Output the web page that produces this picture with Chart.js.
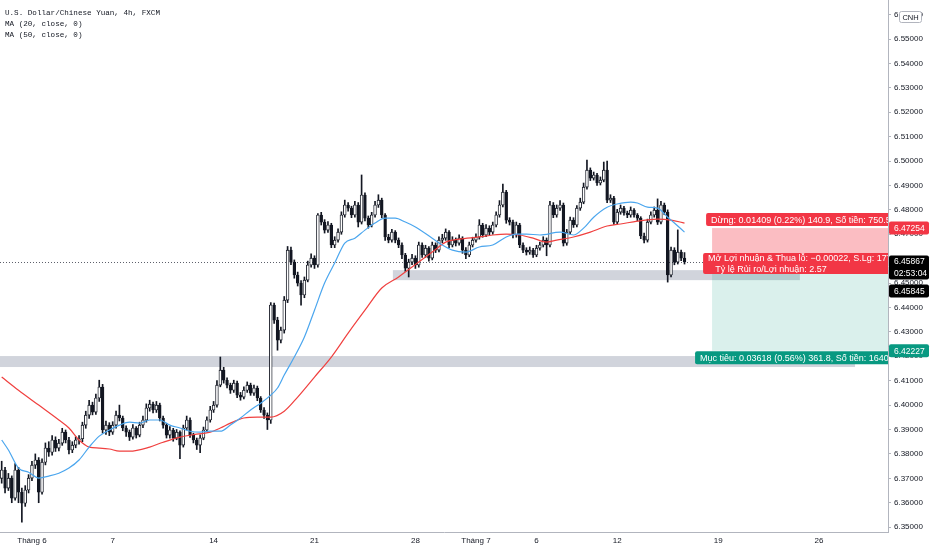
<!DOCTYPE html>
<html>
<head>
<meta charset="utf-8">
<script src="https://cdn.jsdelivr.net/npm/chart.js@4.4.1/dist/chart.umd.min.js"></script>
<style>
  html, body { margin: 0; padding: 0; background: #fff; }
  #wrap { width: 932px; height: 550px; position: relative; }
</style>
</head>
<body>
<div id="wrap"><canvas id="chart"></canvas></div>
<script>
// USD/CNH 4h candles (one value per bar)
const open = [
  6.3700, 6.3734, 6.3660, 6.3701, 6.3619, 6.3734, 6.3643, 6.3598, 6.3652, 6.3701,
  6.3754, 6.3775, 6.3643, 6.3766, 6.3824, 6.3807, 6.3857, 6.3824, 6.3844, 6.3889,
  6.3857, 6.3816, 6.3836, 6.3857, 6.3862, 6.3918, 6.3959, 6.4000, 6.3971, 6.4029,
  6.4074, 6.3898, 6.3918, 6.3889, 6.3918, 6.3959, 6.3947, 6.3906, 6.3889, 6.3869,
  6.3906, 6.3877, 6.3918, 6.3939, 6.3988, 6.4004, 6.3980, 6.4000, 6.3947, 6.3918,
  6.3877, 6.3898, 6.3865, 6.3889, 6.3836, 6.3906, 6.3939, 6.3877, 6.3857, 6.3836,
  6.3865, 6.3898, 6.3939, 6.3980, 6.4000, 6.4082, 6.4143, 6.4102, 6.4082, 6.4061,
  6.4090, 6.4041, 6.4033, 6.4061, 6.4082, 6.4049, 6.4070, 6.4029, 6.3980, 6.3959,
  6.3939, 6.4410, 6.4348, 6.4266, 6.4307, 6.4430, 6.4635, 6.4586, 6.4533, 6.4500,
  6.4451, 6.4512, 6.4574, 6.4602, 6.4574, 6.4779, 6.4750, 6.4717, 6.4738, 6.4656,
  6.4676, 6.4709, 6.4779, 6.4820, 6.4807, 6.4779, 6.4820, 6.4750, 6.4861, 6.4766,
  6.4738, 6.4779, 6.4820, 6.4840, 6.4779, 6.4689, 6.4676, 6.4709, 6.4676, 6.4656,
  6.4615, 6.4561, 6.4586, 6.4602, 6.4574, 6.4656, 6.4615, 6.4643, 6.4602, 6.4656,
  6.4635, 6.4676, 6.4684, 6.4709, 6.4656, 6.4676, 6.4664, 6.4684, 6.4635, 6.4615,
  6.4656, 6.4676, 6.4689, 6.4738, 6.4697, 6.4725, 6.4709, 6.4738, 6.4779, 6.4820,
  6.4873, 6.4758, 6.4750, 6.4697, 6.4738, 6.4656, 6.4635, 6.4627, 6.4635, 6.4615,
  6.4643, 6.4656, 6.4676, 6.4656, 6.4820, 6.4779, 6.4807, 6.4820, 6.4664, 6.4709,
  6.4758, 6.4738, 6.4807, 6.4832, 6.4893, 6.4963, 6.4930, 6.4943, 6.4910, 6.4922,
  6.4963, 6.4840, 6.4848, 6.4750, 6.4791, 6.4807, 6.4787, 6.4779, 6.4799, 6.4779,
  6.4766, 6.4693, 6.4676, 6.4750, 6.4779, 6.4799, 6.4750, 6.4820, 6.4791, 6.4533,
  6.4635, 6.4586, 6.4627, 6.4602
];
const high = [
  6.3770, 6.3745, 6.3720, 6.3710, 6.3760, 6.3745, 6.3660, 6.3670, 6.3715, 6.3770,
  6.3800, 6.3785, 6.3780, 6.3845, 6.3850, 6.3875, 6.3870, 6.3860, 6.3905, 6.3898,
  6.3868, 6.3850, 6.3870, 6.3875, 6.3930, 6.3975, 6.4020, 6.4012, 6.4045, 6.4102,
  6.4085, 6.3935, 6.3928, 6.3932, 6.3975, 6.4000, 6.3955, 6.3915, 6.3898, 6.3920,
  6.3912, 6.3930, 6.3955, 6.4005, 6.4020, 6.4012, 6.4015, 6.4008, 6.3955, 6.3925,
  6.3912, 6.3905, 6.3900, 6.3895, 6.3918, 6.3955, 6.3948, 6.3885, 6.3865, 6.3878,
  6.3910, 6.3952, 6.3995, 6.4015, 6.4100, 6.4197, 6.4155, 6.4112, 6.4090, 6.4102,
  6.4098, 6.4052, 6.4075, 6.4095, 6.4090, 6.4082, 6.4078, 6.4035, 6.3990, 6.3968,
  6.4420, 6.4418, 6.4360, 6.4320, 6.4445, 6.4650, 6.4648, 6.4595, 6.4545, 6.4510,
  6.4525, 6.4590, 6.4620, 6.4612, 6.4785, 6.4790, 6.4760, 6.4752, 6.4745, 6.4690,
  6.4722, 6.4792, 6.4840, 6.4830, 6.4815, 6.4835, 6.4830, 6.4943, 6.4870, 6.4775,
  6.4790, 6.4835, 6.4862, 6.4848, 6.4785, 6.4700, 6.4720, 6.4715, 6.4685, 6.4665,
  6.4622, 6.4598, 6.4618, 6.4612, 6.4668, 6.4665, 6.4655, 6.4650, 6.4668, 6.4665,
  6.4690, 6.4700, 6.4722, 6.4715, 6.4690, 6.4685, 6.4698, 6.4690, 6.4645, 6.4668,
  6.4688, 6.4702, 6.4760, 6.4745, 6.4740, 6.4735, 6.4750, 6.4792, 6.4838, 6.4906,
  6.4880, 6.4768, 6.4758, 6.4750, 6.4745, 6.4665, 6.4645, 6.4648, 6.4642, 6.4655,
  6.4668, 6.4690, 6.4685, 6.4835, 6.4830, 6.4820, 6.4838, 6.4828, 6.4720, 6.4770,
  6.4768, 6.4818, 6.4848, 6.4910, 6.5004, 6.4972, 6.4955, 6.4950, 6.4935, 6.4996,
  6.5000, 6.4862, 6.4855, 6.4802, 6.4820, 6.4815, 6.4795, 6.4812, 6.4805, 6.4785,
  6.4772, 6.4705, 6.4762, 6.4792, 6.4812, 6.4845, 6.4835, 6.4828, 6.4800, 6.4648,
  6.4645, 6.4718, 6.4635, 6.4625
];
const low = [
  6.3680, 6.3640, 6.3650, 6.3600, 6.3610, 6.3600, 6.3520, 6.3585, 6.3640, 6.3690,
  6.3740, 6.3600, 6.3635, 6.3755, 6.3790, 6.3795, 6.3810, 6.3812, 6.3835, 6.3845,
  6.3800, 6.3805, 6.3825, 6.3840, 6.3850, 6.3905, 6.3945, 6.3960, 6.3962, 6.4015,
  6.3885, 6.3880, 6.3875, 6.3880, 6.3905, 6.3935, 6.3895, 6.3872, 6.3855, 6.3860,
  6.3865, 6.3870, 6.3908, 6.3930, 6.3975, 6.3968, 6.3970, 6.3935, 6.3905, 6.3865,
  6.3865, 6.3852, 6.3858, 6.3780, 6.3828, 6.3898, 6.3868, 6.3845, 6.3818, 6.3805,
  6.3858, 6.3890, 6.3930, 6.3970, 6.3992, 6.4075, 6.4090, 6.4070, 6.4048, 6.4052,
  6.4030, 6.4020, 6.4025, 6.4052, 6.4040, 6.4040, 6.4018, 6.3970, 6.3945, 6.3900,
  6.3925, 6.4335, 6.4225, 6.4255, 6.4295, 6.4420, 6.4575, 6.4520, 6.4488, 6.4410,
  6.4440, 6.4505, 6.4565, 6.4560, 6.4565, 6.4738, 6.4705, 6.4708, 6.4645, 6.4645,
  6.4668, 6.4700, 6.4770, 6.4795, 6.4768, 6.4770, 6.4730, 6.4742, 6.4755, 6.4725,
  6.4730, 6.4770, 6.4810, 6.4768, 6.4675, 6.4665, 6.4668, 6.4665, 6.4645, 6.4600,
  6.4548, 6.4525, 6.4575, 6.4560, 6.4565, 6.4605, 6.4605, 6.4590, 6.4595, 6.4625,
  6.4628, 6.4665, 6.4675, 6.4645, 6.4648, 6.4652, 6.4655, 6.4622, 6.4600, 6.4608,
  6.4648, 6.4668, 6.4680, 6.4688, 6.4690, 6.4698, 6.4700, 6.4730, 6.4770, 6.4812,
  6.4745, 6.4738, 6.4685, 6.4688, 6.4645, 6.4625, 6.4615, 6.4618, 6.4605, 6.4608,
  6.4635, 6.4648, 6.4612, 6.4648, 6.4768, 6.4770, 6.4798, 6.4652, 6.4655, 6.4700,
  6.4728, 6.4730, 6.4798, 6.4825, 6.4885, 6.4920, 6.4922, 6.4900, 6.4902, 6.4915,
  6.4830, 6.4830, 6.4740, 6.4742, 6.4782, 6.4778, 6.4768, 6.4770, 6.4770, 6.4755,
  6.4682, 6.4665, 6.4668, 6.4742, 6.4770, 6.4740, 6.4742, 6.4780, 6.4504, 6.4525,
  6.4575, 6.4578, 6.4592, 6.4578
];
const close = [
  6.3734, 6.3660, 6.3701, 6.3619, 6.3734, 6.3643, 6.3598, 6.3652, 6.3701, 6.3754,
  6.3775, 6.3643, 6.3766, 6.3824, 6.3807, 6.3857, 6.3824, 6.3844, 6.3889, 6.3857,
  6.3816, 6.3836, 6.3857, 6.3862, 6.3918, 6.3959, 6.4000, 6.3971, 6.4029, 6.4074,
  6.3898, 6.3918, 6.3889, 6.3918, 6.3959, 6.3947, 6.3906, 6.3889, 6.3869, 6.3906,
  6.3877, 6.3918, 6.3939, 6.3988, 6.4004, 6.3980, 6.4000, 6.3947, 6.3918, 6.3877,
  6.3898, 6.3865, 6.3889, 6.3836, 6.3906, 6.3939, 6.3877, 6.3857, 6.3836, 6.3865,
  6.3898, 6.3939, 6.3980, 6.4000, 6.4082, 6.4143, 6.4102, 6.4082, 6.4061, 6.4090,
  6.4041, 6.4033, 6.4061, 6.4082, 6.4049, 6.4070, 6.4029, 6.3980, 6.3959, 6.3939,
  6.4410, 6.4348, 6.4266, 6.4307, 6.4430, 6.4635, 6.4586, 6.4533, 6.4500, 6.4451,
  6.4512, 6.4574, 6.4602, 6.4574, 6.4779, 6.4750, 6.4717, 6.4738, 6.4656, 6.4676,
  6.4709, 6.4779, 6.4820, 6.4807, 6.4779, 6.4820, 6.4750, 6.4861, 6.4766, 6.4738,
  6.4779, 6.4820, 6.4840, 6.4779, 6.4689, 6.4676, 6.4709, 6.4676, 6.4656, 6.4615,
  6.4561, 6.4586, 6.4602, 6.4574, 6.4656, 6.4615, 6.4643, 6.4602, 6.4656, 6.4635,
  6.4676, 6.4684, 6.4709, 6.4656, 6.4676, 6.4664, 6.4684, 6.4635, 6.4615, 6.4656,
  6.4676, 6.4689, 6.4738, 6.4697, 6.4725, 6.4709, 6.4738, 6.4779, 6.4820, 6.4873,
  6.4758, 6.4750, 6.4697, 6.4738, 6.4656, 6.4635, 6.4627, 6.4635, 6.4615, 6.4643,
  6.4656, 6.4676, 6.4656, 6.4820, 6.4779, 6.4807, 6.4820, 6.4664, 6.4709, 6.4758,
  6.4738, 6.4807, 6.4832, 6.4893, 6.4963, 6.4930, 6.4943, 6.4910, 6.4922, 6.4963,
  6.4840, 6.4848, 6.4750, 6.4791, 6.4807, 6.4787, 6.4779, 6.4799, 6.4779, 6.4766,
  6.4693, 6.4676, 6.4750, 6.4779, 6.4799, 6.4750, 6.4820, 6.4791, 6.4533, 6.4635,
  6.4586, 6.4627, 6.4602, 6.4587
];

// moving averages as drawn on the picture (bar index, value)
const ma20Idx = [0, 2, 5, 8, 11, 14, 17, 20, 23, 26, 29, 32, 35, 38, 41, 44, 47, 50, 53, 56,
  59, 62, 65, 68, 71, 74, 77, 80, 82, 84, 87, 90, 93, 96, 99, 102, 105, 108, 111, 114,
  117, 120, 123, 128, 131, 134, 138, 142, 146, 150, 153, 156, 160, 166, 170, 173, 176, 180, 183, 187,
  189, 192, 195, 198, 200, 203];
const ma20Val = [6.3857, 6.3816, 6.3742, 6.3725, 6.3701, 6.3709, 6.3721, 6.3742, 6.3775, 6.3828,
  6.3873, 6.3898, 6.3918, 6.3930, 6.3926, 6.3939, 6.3939, 6.3918, 6.3906, 6.3893,
  6.3889, 6.3893, 6.3893, 6.3918, 6.3947, 6.3980, 6.4008, 6.4041, 6.4070, 6.4123,
  6.4197, 6.4279, 6.4389, 6.4500, 6.4582, 6.4664, 6.4684, 6.4717, 6.4746, 6.4766,
  6.4766, 6.4750, 6.4730, 6.4684, 6.4656, 6.4635, 6.4627, 6.4648, 6.4656, 6.4689,
  6.4701, 6.4701, 6.4697, 6.4709, 6.4697, 6.4725, 6.4770, 6.4811, 6.4824, 6.4832,
  6.4828, 6.4811, 6.4807, 6.4770, 6.4746, 6.4709];
const ma50Idx = [0, 5, 11, 17, 20, 23, 26, 29, 32, 35, 38, 44, 48, 53, 58, 62, 65, 68, 72, 76,
  80, 84, 88, 93, 98, 103, 108, 113, 118, 122, 128, 132, 136, 142, 146, 150, 154, 158, 162, 165,
  170, 175, 180, 184, 189, 195, 199, 203];
const ma50Val = [6.4115, 6.4061, 6.4000, 6.3939, 6.3906, 6.3857, 6.3828, 6.3824, 6.3820, 6.3811,
  6.3811, 6.3828, 6.3848, 6.3869, 6.3881, 6.3889, 6.3906, 6.3926, 6.3947, 6.3951,
  6.3951, 6.3975, 6.4033, 6.4115, 6.4197, 6.4295, 6.4389, 6.4480, 6.4525, 6.4566,
  6.4627, 6.4668, 6.4680, 6.4689, 6.4697, 6.4701, 6.4697, 6.4684, 6.4668, 6.4676,
  6.4689, 6.4709, 6.4734, 6.4742, 6.4754, 6.4762, 6.4758, 6.4746];

// time axis: bar index of each date label
const xTickIdx = [9, 33, 63, 93, 123, 141, 159, 183, 213, 243];
const xTickText = ['Tháng 6', '7', '14', '21', '28', 'Tháng 7', '6', '12', '19', '26'];
const yTicks = [6.35, 6.36, 6.37, 6.38, 6.39, 6.40, 6.41, 6.42, 6.43, 6.44, 6.45,
  6.46, 6.47, 6.48, 6.49, 6.50, 6.51, 6.52, 6.53, 6.54, 6.55, 6.56];

// drawings: grey zones (bar index from/to, price top/bottom)
const zoneFrom = [116.3, -0.5];
const zoneTo = [237.3, 253.7];
const zoneTop = [6.4553, 6.4201];
const zoneBottom = [6.4512, 6.4156];

// short position tool
const posStart = 211.2;
const entryPrice = 6.45845;
const stopPrice = 6.47254;
const targetPrice = 6.42227;
const lastPrice = 6.45867;

const SANS = '"Liberation Sans", Arial, sans-serif';

const bars = open.map((_, i) => i);
const wickData = bars.map(i => ({ x: i, y: [low[i], high[i]] }));
const bodyData = bars.map(i => ({ x: i, y: [open[i], close[i]] }));
const bodyFill = bars.map(i => close[i] >= open[i] ? '#ffffff' : '#131722');

// rounded tag; each line is [text, x offset from left or 'c' for centred at cx]
function tag(ctx, x, y, w, h, bg, lines, color, cx) {
    ctx.fillStyle = bg;
    ctx.beginPath();
    ctx.roundRect(x, y, w, h, 2);
    ctx.fill();
    ctx.fillStyle = color;
    ctx.textBaseline = 'middle';
    const lh = h / lines.length;
    lines.forEach((t, k) => {
        if (cx && k > 0) {
            ctx.textAlign = 'center';
            ctx.fillText(t, cx, y + lh * (k + 0.5) + 0.5);
        } else {
            ctx.textAlign = 'left';
            ctx.fillText(t, x + 5, y + lh * (k + 0.5) + 0.5);
        }
    });
}

const drawings = {
    id: 'drawings',
    beforeDatasetsDraw(chart) {
        const { ctx, chartArea: a, scales: { x, y } } = chart;
        ctx.save();
        ctx.beginPath();
        ctx.rect(a.left, a.top, a.right - a.left, a.bottom - a.top);
        ctx.clip();
        const box = (i0, i1, p0, p1, col) => {
            const x0 = x.getPixelForValue(i0), x1 = x.getPixelForValue(i1);
            const y0 = y.getPixelForValue(p0), y1 = y.getPixelForValue(p1);
            ctx.fillStyle = col;
            ctx.fillRect(Math.min(x0, x1), Math.min(y0, y1), Math.abs(x1 - x0), Math.abs(y1 - y0));
        };
        zoneFrom.forEach((f, k) => box(f, zoneTo[k], zoneTop[k], zoneBottom[k], '#d1d4dc'));
        box(posStart, x.max, entryPrice, stopPrice, 'rgba(242,54,69,0.33)');
        box(posStart, x.max, entryPrice, targetPrice, 'rgba(8,153,129,0.15)');
        // last price dotted line
        const ly = Math.round(y.getPixelForValue(lastPrice)) + 0.5;
        ctx.strokeStyle = '#5d606b';
        ctx.lineWidth = 1;
        ctx.setLineDash([1, 2]);
        ctx.beginPath();
        ctx.moveTo(a.left, ly);
        ctx.lineTo(a.right, ly);
        ctx.stroke();
        ctx.restore();
    },
    afterDatasetsDraw(chart) {
        const { ctx, chartArea: a, scales: { x, y } } = chart;
        ctx.save();
        ctx.beginPath();
        ctx.rect(a.left, a.top, a.right - a.left, a.bottom - a.top);
        ctx.clip();
        ctx.font = '9px ' + SANS;
        const px = x.getPixelForValue(posStart);
        const ys = y.getPixelForValue(stopPrice);
        const ye = y.getPixelForValue(entryPrice);
        const yt = y.getPixelForValue(targetPrice);
        tag(ctx, px - 6, ys - 15, a.right - px + 20, 13, '#f23645',
            ['Dừng: 0.01409 (0.22%) 140.9, Số tiền: 750.5'], '#fff');
        tag(ctx, px - 9, ye - 9.5, a.right - px + 20, 21, '#f23645',
            ['Mở Lợi nhuận & Thua lỗ: −0.00022, S.Lg: 1770', 'Tỷ lệ Rủi ro/Lợi nhuận: 2.57'],
            '#fff', px + 59);
        tag(ctx, px - 17, yt + 0.5, a.right - px + 30, 13, '#089981',
            ['Mục tiêu: 0.03618 (0.56%) 361.8, Số tiền: 1640'], '#fff');
        ctx.restore();
    },
    afterDraw(chart) {
        const { ctx, chartArea: a, scales: { y } } = chart;
        ctx.save();
        // legend block
        ctx.font = '7.6px "Liberation Mono", "DejaVu Sans Mono", monospace';
        ctx.fillStyle = '#131722';
        ctx.textAlign = 'left';
        ctx.textBaseline = 'middle';
        ctx.fillText('U.S. Dollar/Chinese Yuan, 4h, FXCM', 5, 13);
        ctx.fillText('MA (20, close, 0)', 5, 24);
        ctx.fillText('MA (50, close, 0)', 5, 35);
        // price tags on the axis
        ctx.font = '8.5px ' + SANS;
        const ax = a.right + 1;
        const w = 40;
        const ys = y.getPixelForValue(stopPrice);
        tag(ctx, ax, ys - 6.5, w, 13, '#f23645', ['6.47254'], '#fff');
        const yl = y.getPixelForValue(lastPrice);
        tag(ctx, ax, yl - 6.5, w, 24, '#000000', ['6.45867', '02:53:04'], '#fff');
        tag(ctx, ax, yl + 22.5, w, 13, '#000000', ['6.45845'], '#fff');
        const yt = y.getPixelForValue(targetPrice);
        tag(ctx, ax, yt - 6.5, w, 13, '#089981', ['6.42227'], '#fff');
        // currency badge
        ctx.fillStyle = '#ffffff';
        ctx.strokeStyle = '#b2b5be';
        ctx.lineWidth = 1;
        ctx.beginPath();
        ctx.roundRect(899.5, 11.5, 22, 11, 2);
        ctx.fill();
        ctx.stroke();
        ctx.fillStyle = '#131722';
        ctx.font = '7.5px ' + SANS;
        ctx.textAlign = 'center';
        ctx.fillText('CNH', 910.5, 17.5);
        ctx.restore();
    }
};

new Chart(document.getElementById('chart'), {
    type: 'bar',
    data: {
        datasets: [
            {
                type: 'line',
                label: 'MA 20',
                data: ma20Idx.map((i, k) => ({ x: i, y: ma20Val[k] })),
                borderColor: '#4ba6ee',
                borderWidth: 1.2,
                pointRadius: 0,
                cubicInterpolationMode: 'monotone',
                order: 0
            },
            {
                type: 'line',
                label: 'MA 50',
                data: ma50Idx.map((i, k) => ({ x: i, y: ma50Val[k] })),
                borderColor: '#f0403f',
                borderWidth: 1.2,
                pointRadius: 0,
                cubicInterpolationMode: 'monotone',
                order: 0
            },
            {
                label: 'body',
                data: bodyData,
                backgroundColor: bodyFill,
                borderColor: '#131722',
                borderWidth: 0.9,
                borderSkipped: false,
                barThickness: 2.8,
                minBarLength: 1,
                grouped: false,
                order: 1
            },
            {
                label: 'wick',
                data: wickData,
                backgroundColor: '#131722',
                barThickness: 1,
                grouped: false,
                order: 2
            }
        ]
    },
    options: {
        responsive: true,
        maintainAspectRatio: false,
        animation: false,
        layout: { padding: 0 },
        plugins: {
            legend: { display: false },
            tooltip: { enabled: false }
        },
        scales: {
            x: {
                type: 'linear',
                min: -0.5,
                max: 263.5,
                offset: false,
                grid: { display: false, drawTicks: false },
                border: { display: true, color: '#b2b5be' },
                afterBuildTicks: (s) => { s.ticks = xTickIdx.map(v => ({ value: v })); },
                afterFit: (s) => { s.height = 18; s.paddingLeft = 0; s.paddingRight = 0; },
                ticks: {
                    autoSkip: false,
                    maxRotation: 0,
                    padding: 4,
                    color: '#131722',
                    font: { size: 8, family: SANS },
                    callback: (v) => xTickText[xTickIdx.indexOf(v)]
                }
            },
            y: {
                position: 'right',
                min: 6.348,
                max: 6.566,
                grid: { drawOnChartArea: false, drawTicks: true, tickLength: 3, color: '#b2b5be' },
                border: { display: true, color: '#b2b5be' },
                afterBuildTicks: (s) => { s.ticks = yTicks.map(v => ({ value: v })); },
                afterFit: (s) => { s.width = 44; s.paddingTop = 0; s.paddingBottom = 0; },
                ticks: {
                    padding: 3,
                    color: '#131722',
                    font: { size: 8, family: SANS },
                    callback: (v) => Number(v).toFixed(5)
                }
            }
        }
    },
    plugins: [drawings]
});
</script>
</body>
</html>
